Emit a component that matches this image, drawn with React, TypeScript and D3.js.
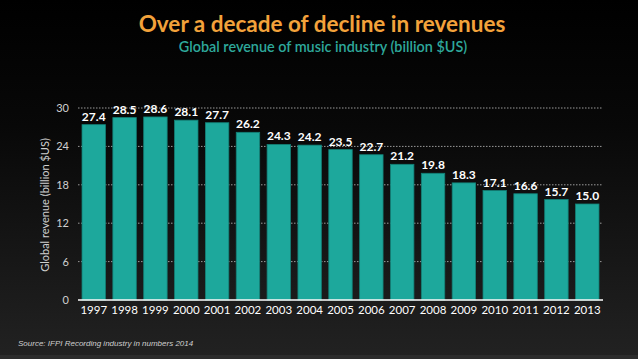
import React from "react";
import * as d3 from "d3";

const years = ["1997","1998","1999","2000","2001","2002","2003","2004","2005","2006","2007","2008","2009","2010","2011","2012","2013"];
const revenues = [27.4,28.5,28.6,28.1,27.7,26.2,24.3,24.2,23.5,22.7,21.2,19.8,18.3,17.1,16.6,15.7,15.0];
const yTicks = [0,6,12,18,24,30];
const title = "Over a decade of decline in revenues";
const subtitle = "Global revenue of music industry (billion $US)";
const yTitle = "Global revenue (billion $US)";
const source = "Source: IFPI Recording industry in numbers 2014";

const W = 638, H = 359;
const left = 78, right = 603, top = 108, bottom = 300;

export default function App() {
  const x = d3.scaleBand<string>().domain(years).range([left, right]).paddingInner(0.24).paddingOuter(0.13);
  const y = d3.scaleLinear().domain([0, 30]).range([bottom, top]);
  const font = "Lato, 'Open Sans', sans-serif";
  return (
    <svg width={W} height={H} style={{ position: "absolute", left: 0, top: 0, display: "block" }}>
      <defs>
        <linearGradient id="bg" x1="0" y1="0" x2="0" y2="1">
          <stop offset="0" stopColor="#000000" />
          <stop offset="0.35" stopColor="#080808" />
          <stop offset="1" stopColor="#222222" />
        </linearGradient>
      </defs>
      <rect x={0} y={0} width={W} height={H} fill="url(#bg)" />
      <rect x={0} y={H - 4} width={W} height={4} fill="#2c2c2c" />
      <text x={322} y={32} textAnchor="middle" fill="#F3A23B" fontFamily={font} fontWeight={700} fontSize={22.5}>{title}</text>
      <text x={323} y={52} textAnchor="middle" fill="#2EA89B" fontFamily={font} fontWeight={600} fontSize={14.4}>{subtitle}</text>
      {yTicks.filter(t => t > 0).map(t => (
        <line key={"g" + t} x1={left} x2={right} y1={y(t)} y2={y(t)} stroke="#9a9a9a" strokeWidth={1} strokeDasharray="1.5,1.5" />
      ))}
      {yTicks.map(t => (
        <text key={"yt" + t} x={69} y={y(t) + 4} textAnchor="end" fill="#d0d0d0" fontFamily={font} fontSize={11}>{t}</text>
      ))}
      <text transform={`translate(49,205) rotate(-90)`} textAnchor="middle" fill="#cfcfcf" fontFamily={font} fontSize={11}>{yTitle}</text>
      {years.map((yr, i) => (
        <rect key={"b" + yr} x={x(yr)} y={y(revenues[i])} width={x.bandwidth()} height={bottom - y(revenues[i])} fill="#1DA89C" stroke="#138077" strokeWidth={0.8} />
      ))}
      {years.map((yr, i) => (
        <text key={"v" + yr} x={(x(yr) as number) + x.bandwidth() / 2} y={y(revenues[i]) - 4} textAnchor="middle" fill="#ffffff" fontFamily={font} fontWeight={700} fontSize={12}>{revenues[i].toFixed(1)}</text>
      ))}
      <line x1={left} x2={right} y1={bottom} y2={bottom} stroke="#ffffff" strokeWidth={1.5} />
      {years.map(yr => (
        <text key={"x" + yr} x={(x(yr) as number) + x.bandwidth() / 2} y={314} textAnchor="middle" fill="#ffffff" fontFamily={font} fontSize={11.5}>{yr}</text>
      ))}
      <text x={18} y={346} fill="#cfcfcf" fontFamily="'Liberation Sans', Arial, sans-serif" fontStyle="italic" fontSize={8}>{source}</text>
    </svg>
  );
}
